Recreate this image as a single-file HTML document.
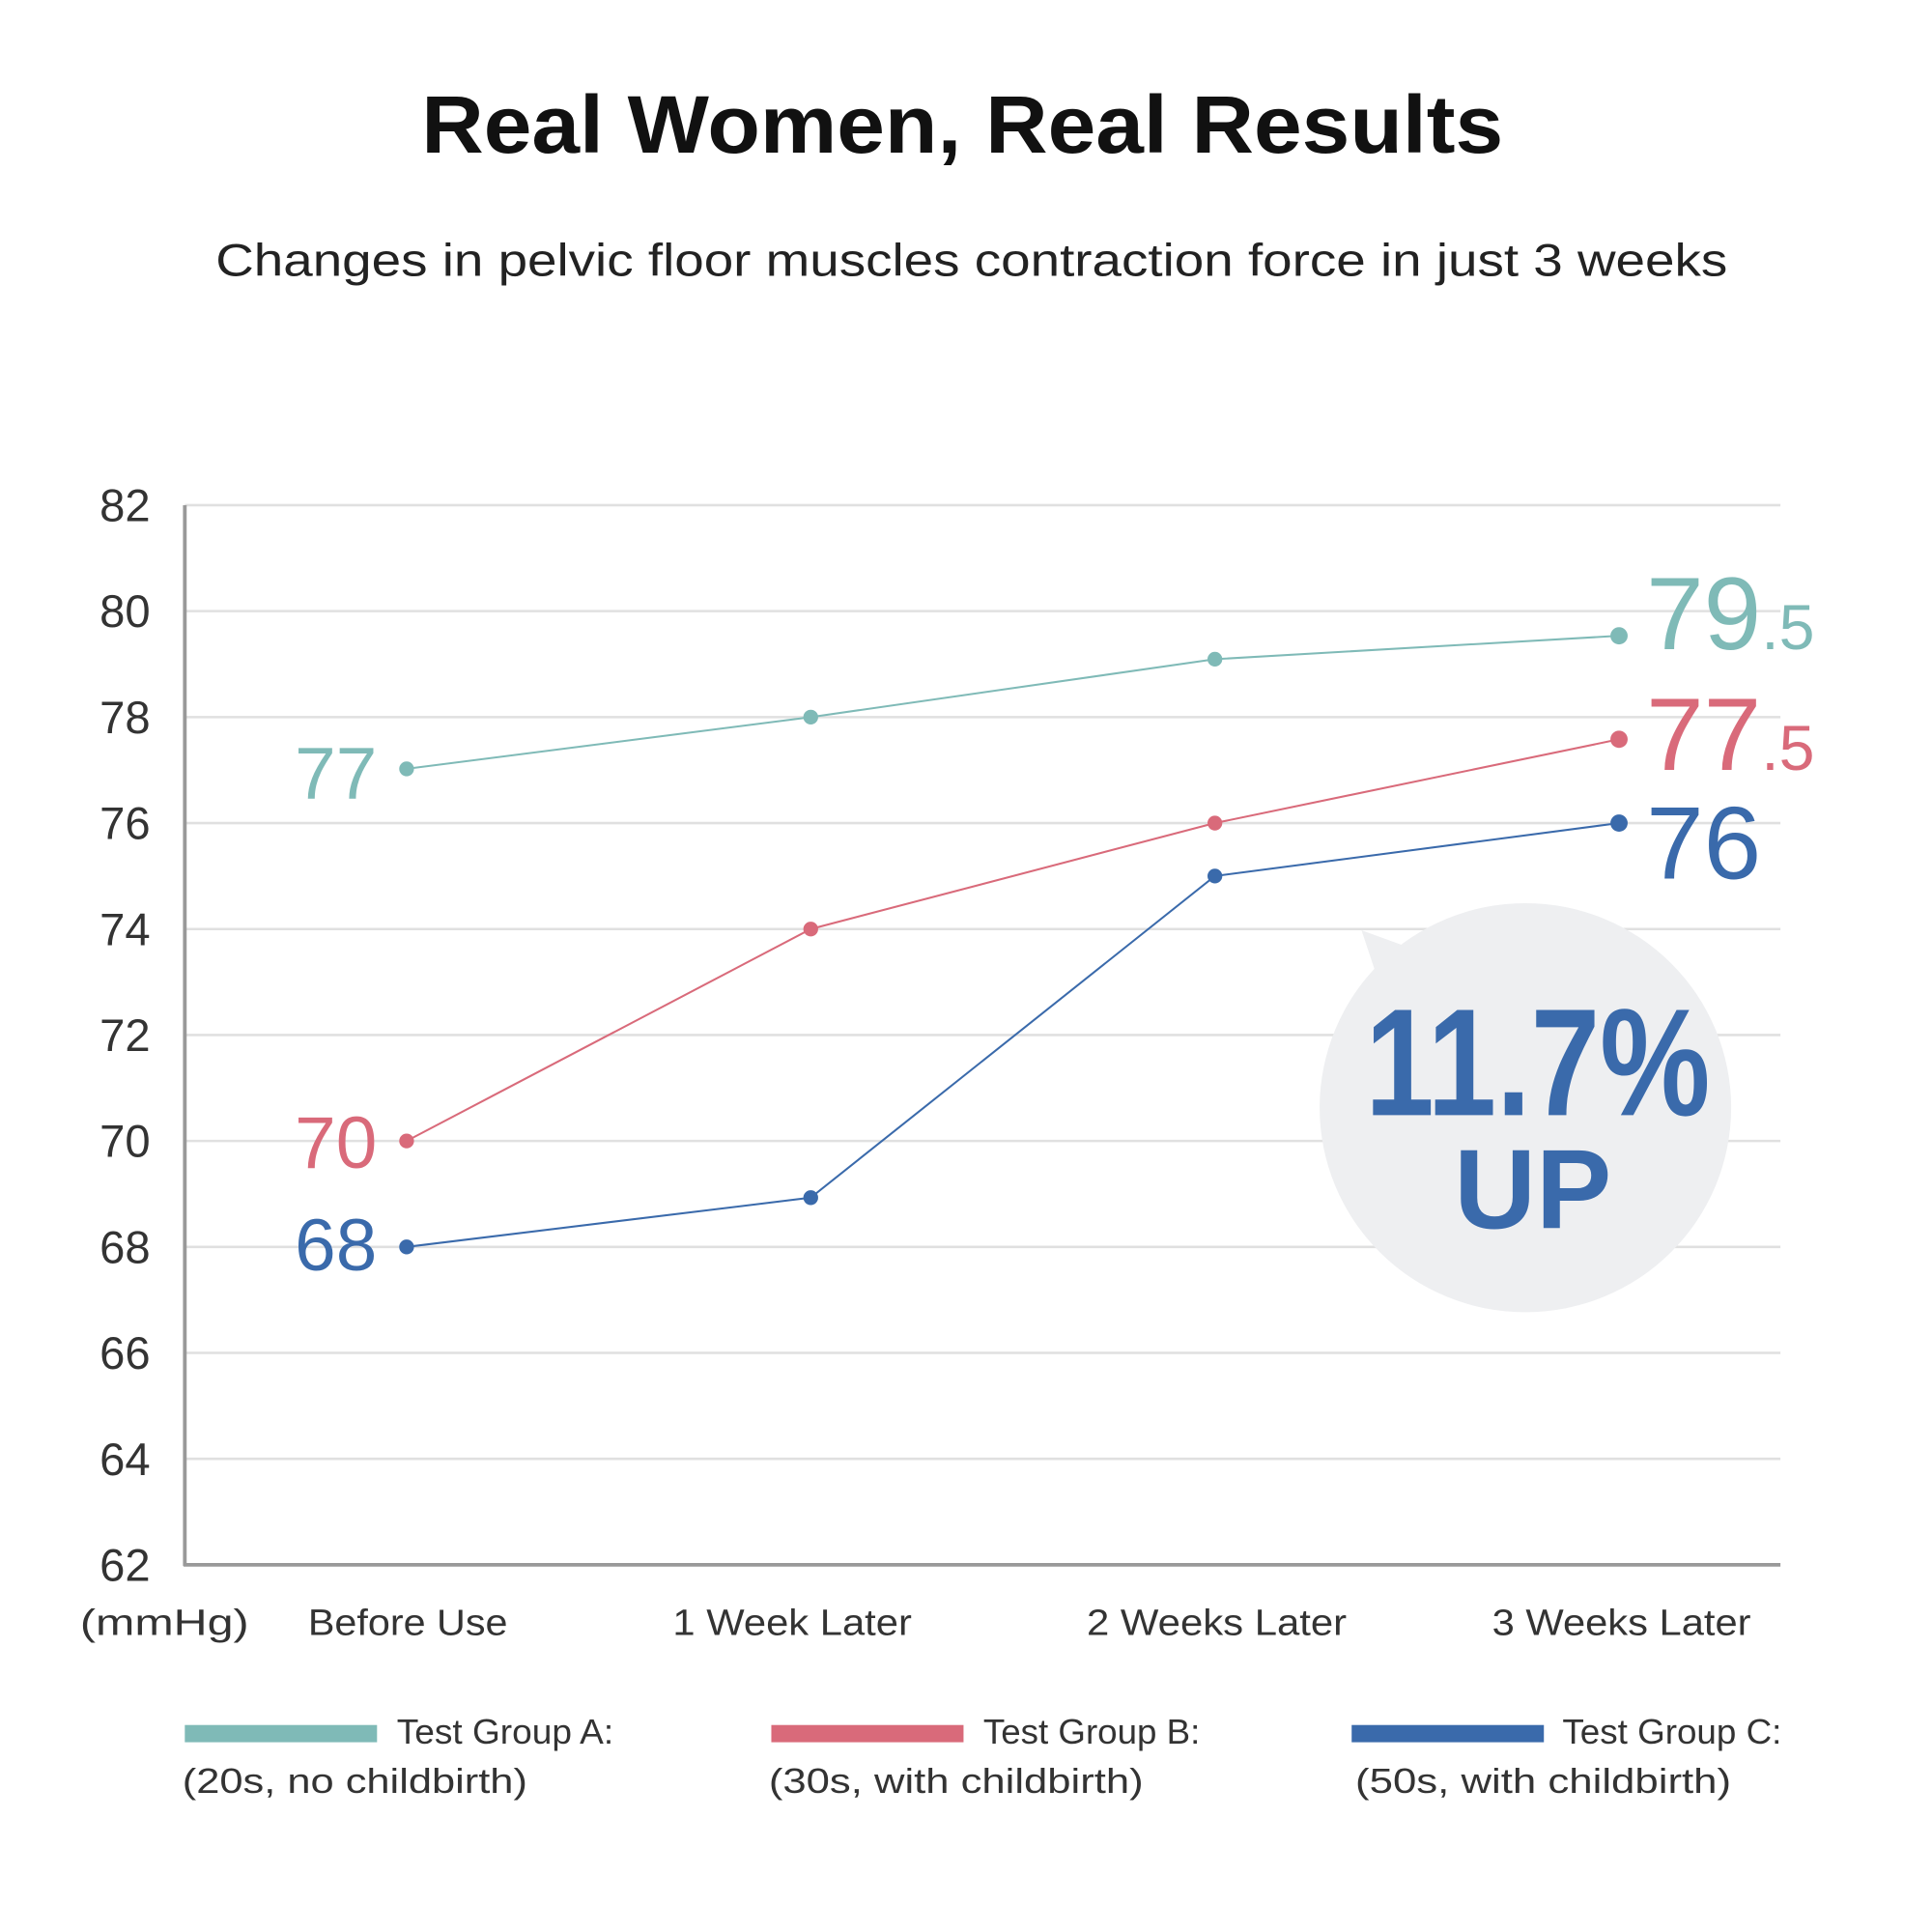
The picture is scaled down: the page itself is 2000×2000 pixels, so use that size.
<!DOCTYPE html>
<html><head><meta charset="utf-8"><style>
html,body{margin:0;padding:0;background:#fff}
svg{display:block}
text{font-family:"Liberation Sans",sans-serif}
</style></head><body>
<svg width="2000" height="2000" viewBox="0 0 1568 1568" xmlns="http://www.w3.org/2000/svg">
<rect width="1568" height="1568" fill="#fff"/>
<text x="342" y="124" font-size="66" font-weight="bold" fill="#111" textLength="878" lengthAdjust="spacingAndGlyphs">Real Women, Real Results</text>
<text x="175" y="224" font-size="37" fill="#222" textLength="1227" lengthAdjust="spacingAndGlyphs">Changes in pelvic floor muscles contraction force in just 3 weeks</text>
<g stroke="#e0e0e0" stroke-width="2">
<line x1="150" x2="1445" y1="410" y2="410"/><line x1="150" x2="1445" y1="496" y2="496"/>
<line x1="150" x2="1445" y1="582" y2="582"/><line x1="150" x2="1445" y1="668" y2="668"/>
<line x1="150" x2="1445" y1="754" y2="754"/><line x1="150" x2="1445" y1="840" y2="840"/>
<line x1="150" x2="1445" y1="926" y2="926"/><line x1="150" x2="1445" y1="1012" y2="1012"/>
<line x1="150" x2="1445" y1="1098" y2="1098"/><line x1="150" x2="1445" y1="1184" y2="1184"/>
</g>
<line x1="150" y1="410" x2="150" y2="1271" stroke="#999" stroke-width="3"/>
<line x1="149" y1="1270" x2="1445" y2="1270" stroke="#999" stroke-width="3"/>
<g font-size="37" fill="#333" text-anchor="end">
<text x="122" y="423">82</text><text x="122" y="509">80</text><text x="122" y="595">78</text>
<text x="122" y="681">76</text><text x="122" y="767">74</text><text x="122" y="853">72</text>
<text x="122" y="939">70</text><text x="122" y="1025">68</text><text x="122" y="1111">66</text>
<text x="122" y="1197">64</text><text x="122" y="1283">62</text>
</g>
<g font-size="30" fill="#333">
<text x="65" y="1327" textLength="137" lengthAdjust="spacingAndGlyphs">(mmHg)</text>
<text x="250" y="1327" textLength="162" lengthAdjust="spacingAndGlyphs">Before Use</text>
<text x="546" y="1327" textLength="194" lengthAdjust="spacingAndGlyphs">1 Week Later</text>
<text x="882" y="1327" textLength="211" lengthAdjust="spacingAndGlyphs">2 Weeks Later</text>
<text x="1211" y="1327" textLength="210" lengthAdjust="spacingAndGlyphs">3 Weeks Later</text>
</g>
<ellipse cx="1238" cy="899" rx="167" ry="166" fill="#eeeff1"/>
<path d="M1105 755 L1160 775 L1130 830 Z" fill="#eeeff1"/>
<polyline points="330,624 658,582 986,535 1314,516" fill="none" stroke="#7fbab7" stroke-width="1.6"/>
<polyline points="330,926 658,754 986,668 1314,600" fill="none" stroke="#d96a7a" stroke-width="1.6"/>
<polyline points="330,1012 658,972 986,711 1314,668" fill="none" stroke="#3a6aab" stroke-width="1.6"/>
<g fill="#7fbab7"><circle cx="330" cy="624" r="6"/><circle cx="658" cy="582" r="6"/><circle cx="986" cy="535" r="6"/><circle cx="1314" cy="516" r="7"/></g>
<g fill="#d96a7a"><circle cx="330" cy="926" r="6"/><circle cx="658" cy="754" r="6"/><circle cx="986" cy="668" r="6"/><circle cx="1314" cy="600" r="7"/></g>
<g fill="#3a6aab"><circle cx="330" cy="1012" r="6"/><circle cx="658" cy="972" r="6"/><circle cx="986" cy="711" r="6"/><circle cx="1314" cy="668" r="7"/></g>
<g font-size="60" text-anchor="end">
<text x="306" y="648" fill="#7fbab7">77</text>
<text x="306" y="948" fill="#d96a7a">70</text>
<text x="306" y="1031" fill="#3a6aab">68</text>
</g>
<text x="1336" y="527" font-size="84" fill="#7fbab7">79<tspan font-size="52">.5</tspan></text>
<text x="1336" y="625" font-size="84" fill="#d96a7a">77<tspan font-size="52">.5</tspan></text>
<text x="1336" y="713" font-size="84" fill="#3a6aab">76</text>
<text x="1108" y="905" font-size="124" font-weight="bold" fill="#3a6aab" textLength="280" lengthAdjust="spacingAndGlyphs">11.7%</text>
<text x="1244" y="997" text-anchor="middle" font-size="92" font-weight="bold" fill="#3a6aab">UP</text>
<rect x="150" y="1400" width="156" height="14" fill="#7fbab7"/>
<rect x="626" y="1400" width="156" height="14" fill="#d96a7a"/>
<rect x="1097" y="1400" width="156" height="14" fill="#3a6aab"/>
<g font-size="28" fill="#333">
<text x="322" y="1415" textLength="176" lengthAdjust="spacingAndGlyphs">Test Group A:</text>
<text x="148" y="1455" textLength="280" lengthAdjust="spacingAndGlyphs">(20s, no childbirth)</text>
<text x="798" y="1415" textLength="176" lengthAdjust="spacingAndGlyphs">Test Group B:</text>
<text x="624" y="1455" textLength="304" lengthAdjust="spacingAndGlyphs">(30s, with childbirth)</text>
<text x="1268" y="1415" textLength="178" lengthAdjust="spacingAndGlyphs">Test Group C:</text>
<text x="1100" y="1455" textLength="305" lengthAdjust="spacingAndGlyphs">(50s, with childbirth)</text>
</g>
</svg>
</body></html>
